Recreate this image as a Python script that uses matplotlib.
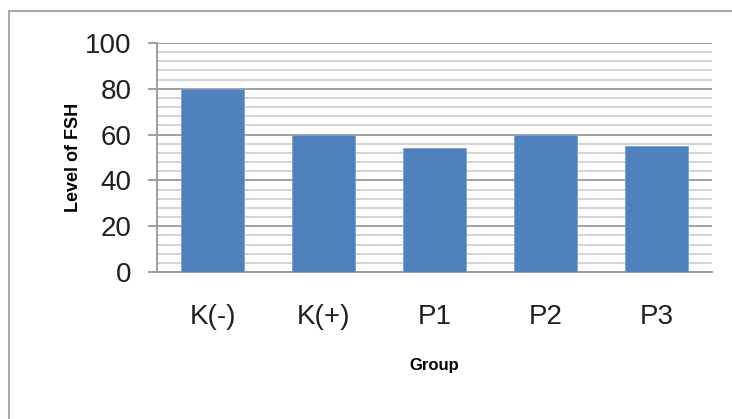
import numpy as np
import matplotlib
matplotlib.use("Agg")
import matplotlib.pyplot as plt
from matplotlib.patches import Rectangle

groups = ["K(-)", "K(+)", "P1", "P2", "P3"]
fsh = [80, 60, 54, 60, 55]
yticks = [0, 20, 40, 60, 80, 100]

face = "Liberation Sans"

fig = plt.figure(figsize=(7.32, 4.19), dpi=100)
ax = fig.add_axes([157/732, 1 - 272/419, 555/732, 229/419])

x = np.arange(len(groups))
ax.bar(x, fsh, width=0.57, color="#4f81bd", edgecolor="#7ba0d0", linewidth=0.6, zorder=3)

ax.set_xlim(-0.5, len(groups) - 0.5)
ax.set_ylim(0, 100)
ax.set_yticks(yticks)
ax.set_yticks(np.arange(0, 101, 4), minor=True)
ax.set_xticks(x)
ax.set_xticklabels(groups)

ax.grid(axis="y", which="major", color="#9a9a9a", linewidth=1.3, zorder=0)
ax.grid(axis="y", which="minor", color="#cccccc", linewidth=1.2, zorder=0)

for s in ["top", "right"]:
    ax.spines[s].set_visible(False)
for s in ["left", "bottom"]:
    ax.spines[s].set_color("#9a9a9a")
    ax.spines[s].set_linewidth(1.3)

ax.tick_params(axis="y", which="major", length=6.5, width=1.3, color="#9a9a9a", pad=12,
               labelsize=20)
ax.tick_params(axis="y", which="minor", length=0)
ax.tick_params(axis="x", length=0, pad=23, labelsize=20)
for lab in ax.get_xticklabels() + ax.get_yticklabels():
    lab.set_family(face)
    lab.set_color("#202020")

ax.set_xlabel("Group", fontsize=12, fontweight="bold", family=face, labelpad=20)
ax.set_ylabel("Level of FSH", fontsize=13, fontweight="bold", family=face)
ax.yaxis.set_label_coords(-0.135, 0.5)

# outer chart frame, runs off the bottom and right edge
fig.patches.append(Rectangle((9/732, -0.1), 1.0, 1 - 11/419 + 0.1, transform=fig.transFigure,
                             fill=False, edgecolor="#a8a8a8", linewidth=1.5))

fig.savefig("out.png", dpi=100)
